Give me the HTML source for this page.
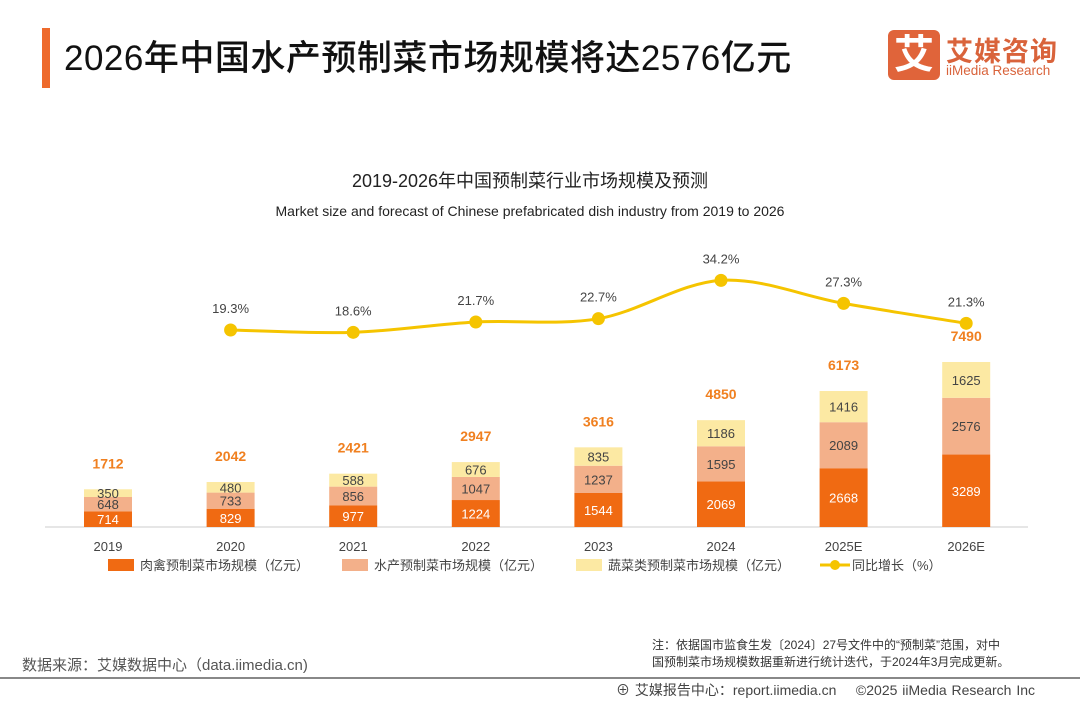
<!DOCTYPE html>
<html><head><meta charset="utf-8">
<style>
body{margin:0;width:1080px;height:702px;background:#fff;overflow:hidden;font-family:"Liberation Sans","Noto Sans CJK SC",sans-serif;position:relative}
.abs{position:absolute}
</style></head><body>
<div class="abs" style="left:42px;top:28px;width:8px;height:60px;background:#ee6a2c"></div>
<div class="abs" style="left:64px;top:30px;font-size:35px;color:#111;font-weight:500;letter-spacing:0.5px">2026年中国水产预制菜市场规模将达2576亿元</div>
<div class="abs" style="left:888px;top:30px;width:52px;height:50px;background:#e0643a;border-radius:6px;color:#fff;font-size:40px;text-align:center;line-height:50px;font-weight:bold">艾</div>
<div class="abs" style="left:946px;top:30px;font-size:27px;color:#d9633b;font-weight:bold;letter-spacing:1px">艾媒咨询</div>
<div class="abs" style="left:946px;top:63px;font-size:13.5px;color:#d9633b">iiMedia Research</div>
<svg class="abs" style="left:0;top:0" width="1080" height="702" id="chart"></svg>
<div class="abs" style="left:22px;top:654px;font-size:15px;color:#555">数据来源：艾媒数据中心（data.iimedia.cn)</div>
<div class="abs" style="left:652px;top:637px;font-size:12px;color:#333;line-height:17px">注：依据国市监食生发〔2024〕27号文件中的“预制菜”范围，对中<br>国预制菜市场规模数据重新进行统计迭代，于2024年3月完成更新。</div>
<div class="abs" style="left:0;top:677px;width:1080px;height:2px;background:#888"></div>
<div class="abs" style="left:616px;top:680px;font-size:14px;color:#444;word-spacing:1px">⊕ 艾媒报告中心：report.iimedia.cn &nbsp;&nbsp; ©2025 iiMedia Research Inc</div>
<script>
const categories=["2019","2020","2021","2022","2023","2024","2025E","2026E"];
const meat=[714,829,977,1224,1544,2069,2668,3289];
const aqua=[648,733,856,1047,1237,1595,2089,2576];
const veg=[350,480,588,676,835,1186,1416,1625];
const totals=[1712,2042,2421,2947,3616,4850,6173,7490];
const growth=[null,19.3,18.6,21.7,22.7,34.2,27.3,21.3];
const svg=document.getElementById('chart');const NS='http://www.w3.org/2000/svg';
function mk(t,a,txt){const e=document.createElementNS(NS,t);for(const k in a)e.setAttribute(k,a[k]);if(txt!=null)e.textContent=txt;svg.appendChild(e);return e;}
const x=i=>108+i*122.6, base=527, h=v=>v*0.02203, yg=p=>330-(p-19.3)*3.33;
let t;
t=mk('text',{x:530,y:187,'text-anchor':'middle','font-size':18,fill:'#222'},'2019-2026年中国预制菜行业市场规模及预测');
t=mk('text',{x:530,y:216,'text-anchor':'middle','font-size':14,fill:'#222'},'Market size and forecast of Chinese prefabricated dish industry from 2019 to 2026');
t=mk('line',{x1:45,x2:1028,y1:base,y2:base,stroke:'#ccc'});
const cols=['#f06a12','#f3b08a','#fce9a3'];
categories.forEach((c,i)=>{
 let y=base;[meat,aqua,veg].forEach((s,k)=>{const hh=h(s[i]);y-=hh;
  const r=mk('rect',{x:x(i)-24,y:y,width:48,height:hh,fill:cols[k]});
  const l=mk('text',{x:x(i),y:y+hh/2+5,'text-anchor':'middle','font-size':13,fill:k==0?'#fff':'#444'},s[i]);});
 const tl=mk('text',{x:x(i),y:y-21,'text-anchor':'middle','font-size':14,'font-weight':'bold',fill:'#f08020'},totals[i]);
 const xl=mk('text',{x:x(i),y:551,'text-anchor':'middle','font-size':13,fill:'#444'},c);
});
const pts=growth.map((g,i)=>g==null?null:[x(i),yg(g)]).filter(p=>p);
let d='M'+pts[0][0]+','+pts[0][1];
for(let i=0;i<pts.length-1;i++){const p0=pts[i-1]||pts[i],p1=pts[i],p2=pts[i+1],p3=pts[i+2]||p2;
 d+=` C${p1[0]+(p2[0]-p0[0])/6},${p1[1]+(p2[1]-p0[1])/6} ${p2[0]-(p3[0]-p1[0])/6},${p2[1]-(p3[1]-p1[1])/6} ${p2[0]},${p2[1]}`;}
t=mk('path',{d:d,fill:'none',stroke:'#f5c400','stroke-width':3});
growth.forEach((g,i)=>{if(g==null)return;
 const c=mk('circle',{cx:x(i),cy:yg(g),r:6.5,fill:'#f5c400'});
 const l=mk('text',{x:x(i),y:yg(g)-17,'text-anchor':'middle','font-size':13,fill:'#444'},g.toFixed(1)+'%');});
const leg=[['rect',cols[0],108,'肉禽预制菜市场规模（亿元）'],['rect',cols[1],342,'水产预制菜市场规模（亿元）'],['rect',cols[2],576,'蔬菜类预制菜市场规模（亿元）'],['line','#f5c400',820,'同比增长（%）']];
leg.forEach(([k,c,lx,txt])=>{let m;
 if(k=='rect')m=mk('rect',{x:lx,y:559,width:26,height:12,fill:c});
 else{m=mk('line',{x1:lx,x2:lx+30,y1:565,y2:565,stroke:c,'stroke-width':3});mk('circle',{cx:lx+15,cy:565,r:5,fill:c});}
 
 const l=mk('text',{x:lx+32,y:570,'font-size':13,fill:'#444'},txt);});
</script>
</body></html>
